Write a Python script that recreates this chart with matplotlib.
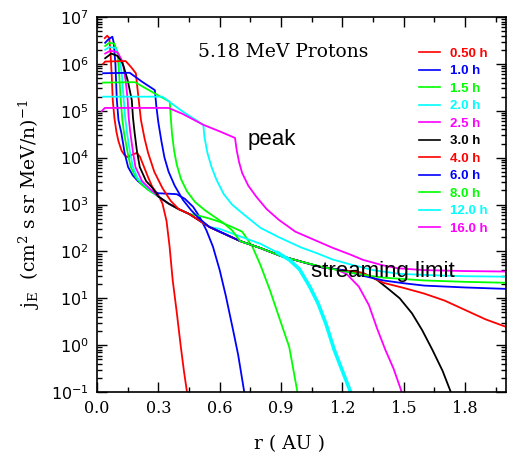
import numpy as np
import matplotlib
matplotlib.use("Agg")
import matplotlib.pyplot as plt
from matplotlib.ticker import MultipleLocator, LogLocator, NullFormatter

plt.rcParams['mathtext.fontset'] = 'dejavuserif'

# ---------------- data (r in AU, log10 of j_E) ----------------
times = ["0.50 h", "1.0 h", "1.5 h", "2.0 h", "2.5 h", "3.0 h",
         "4.0 h", "6.0 h", "8.0 h", "12.0 h", "16.0 h"]
colors = ["#ff0000", "#0000ff", "#00ff00", "#00ffff", "#ff00ff", "#000000",
          "#ff0000", "#0000ff", "#00ff00", "#00ffff", "#ff00ff"]

# streaming-limit bundle shared by many curves
S_r = [0.30, 0.35, 0.40, 0.45, 0.50, 0.55, 0.60, 0.70, 0.80, 0.90, 1.00, 1.10, 1.20, 1.30]
S_l = [3.17, 3.02, 2.90, 2.80, 2.66, 2.52, 2.42, 2.22, 2.07, 1.90, 1.78, 1.66, 1.60, 1.54]

def S(r0, r1):
    rr = [r for r in S_r if r0 <= r <= r1]
    ll = [l for r, l in zip(S_r, S_l) if r0 <= r <= r1]
    return rr, ll

c05_r = [0.038, 0.05, 0.06, 0.066, 0.072, 0.077, 0.085, 0.095, 0.105, 0.12, 0.135, 0.15, 0.17, 0.195,
         0.21, 0.23, 0.25, 0.27, 0.30, 0.32, 0.34, 0.355, 0.37, 0.39, 0.41, 0.425, 0.44]
c05_l = [6.55, 6.60, 6.55, 6.25, 5.75, 5.23, 4.85, 4.55, 4.35, 4.15, 4.05, 4.01, 4.06, 4.10,
         4.02, 3.80, 3.58, 3.38, 3.20, 3.02, 2.65, 2.10, 1.39, 0.70, -0.04, -0.55, -1.0]

c10_r = [0.04, 0.055, 0.075, 0.082, 0.09, 0.097, 0.105, 0.119, 0.135, 0.152, 0.175, 0.20, 0.25, 0.30,
         0.35, 0.39, 0.43, 0.47, 0.50, 0.535, 0.567, 0.60, 0.63, 0.665, 0.69, 0.72]
c10_l = [6.45, 6.52, 6.58, 6.45, 6.0, 5.23, 4.8, 4.53, 4.1, 3.8, 3.62, 3.50, 3.32, 3.24,
         3.23, 3.22, 3.12, 2.95, 2.75, 2.45, 2.10, 1.60, 1.05, 0.33, -0.2, -1.0]

c15_head_r = [0.04, 0.06, 0.085, 0.10, 0.108, 0.116, 0.124, 0.132, 0.15, 0.165, 0.19, 0.22, 0.26]
c15_head_l = [6.38, 6.45, 6.43, 6.25, 5.8, 5.23, 4.8, 4.53, 4.1, 3.80, 3.58, 3.42, 3.28]
c15_tail_r = [0.50, 0.55, 0.60, 0.66, 0.71, 0.76, 0.80, 0.845, 0.89, 0.94, 0.98]
c15_tail_l = [2.76, 2.70, 2.63, 2.52, 2.42, 2.10, 1.70, 1.18, 0.60, -0.04, -1.0]

c20_head_r = [0.04, 0.06, 0.09, 0.11, 0.122, 0.131, 0.138, 0.147, 0.16, 0.176, 0.20, 0.25]
c20_head_l = [6.30, 6.36, 6.34, 6.15, 5.75, 5.23, 4.85, 4.53, 4.15, 3.80, 3.55, 3.35]
c20_tail_r = [0.60, 0.70, 0.80, 0.88, 0.94, 0.99, 1.04, 1.08, 1.12, 1.16, 1.20, 1.24]
c20_tail_l = [2.48, 2.32, 2.16, 1.98, 1.82, 1.62, 1.25, 0.90, 0.45, -0.10, -0.55, -1.0]

c25_head_r = [0.04, 0.065, 0.10, 0.125, 0.14, 0.15, 0.155, 0.163, 0.175, 0.188, 0.22, 0.26]
c25_head_l = [6.22, 6.28, 6.25, 6.05, 5.65, 5.23, 4.85, 4.53, 4.15, 3.80, 3.50, 3.33]
c25_tail_r = [1.16, 1.22, 1.28, 1.33, 1.37, 1.41, 1.45, 1.49]
c25_tail_l = [1.63, 1.52, 1.25, 0.85, 0.35, -0.10, -0.50, -1.0]

c30_head_r = [0.04, 0.07, 0.10, 0.12, 0.13, 0.15, 0.17, 0.176, 0.184, 0.195, 0.209, 0.24, 0.27]
c30_head_l = [6.12, 6.22, 6.17, 6.05, 5.95, 5.65, 5.23, 4.85, 4.53, 4.15, 3.80, 3.50, 3.36]
c30_tail_r = [1.37, 1.43, 1.48, 1.54, 1.59, 1.64, 1.69, 1.73]
c30_tail_l = [1.39, 1.18, 1.00, 0.68, 0.32, -0.10, -0.55, -1.0]

c40_head_r = [0.03, 0.04, 0.14, 0.165, 0.19, 0.196, 0.204, 0.215, 0.233, 0.25, 0.28, 0.32, 0.36]
c40_head_l = [6.00, 6.05, 6.06, 5.94, 5.80, 5.55, 5.23, 4.80, 4.40, 4.10, 3.70, 3.35, 3.08]
c40_tail_r = [1.40, 1.50, 1.60, 1.70, 1.80, 1.90, 2.00]
c40_tail_l = [1.33, 1.22, 1.10, 0.95, 0.75, 0.55, 0.39]

c60_head_r = [0.03, 0.16, 0.22, 0.283, 0.29, 0.30, 0.315, 0.33, 0.35, 0.38, 0.42, 0.46, 0.50]
c60_head_l = [5.80, 5.81, 5.62, 5.44, 5.10, 4.75, 4.35, 4.00, 3.70, 3.40, 3.10, 2.88, 2.70]
c60_tail_r = [1.30, 1.40, 1.50, 1.60, 1.80, 2.00]
c60_tail_l = [1.48, 1.38, 1.32, 1.27, 1.23, 1.20]

c80_head_r = [0.03, 0.185, 0.27, 0.356, 0.36, 0.367, 0.377, 0.39, 0.41, 0.44, 0.48, 0.53, 0.58, 0.62, 0.66]
c80_head_l = [5.60, 5.61, 5.40, 5.19, 4.90, 4.50, 4.15, 3.85, 3.55, 3.28, 3.05, 2.87, 2.72, 2.60, 2.45]
c80_tail_r = [1.10, 1.20, 1.30, 1.40, 1.60, 1.80, 2.00]
c80_tail_l = [1.67, 1.58, 1.50, 1.44, 1.38, 1.35, 1.33]

c120_r = [0.03, 0.32, 0.42, 0.52, 0.525, 0.54, 0.56, 0.585, 0.62, 0.66, 0.72, 0.80, 0.89, 1.00,
          1.07, 1.15, 1.24, 1.35, 1.48, 1.65, 1.80, 2.00]
c120_l = [5.30, 5.30, 4.98, 4.70, 4.45, 4.10, 3.80, 3.52, 3.22, 3.00, 2.78, 2.50, 2.30, 2.08,
          1.97, 1.83, 1.72, 1.60, 1.52, 1.49, 1.47, 1.46]

c160_r = [0.023, 0.038, 0.35, 0.42, 0.52, 0.60, 0.675, 0.683, 0.695, 0.71, 0.74, 0.78, 0.83, 0.89,
          0.97, 1.06, 1.15, 1.24, 1.30, 1.40, 1.47, 1.60, 1.80, 2.00]
c160_l = [4.99, 5.06, 5.06, 4.93, 4.70, 4.56, 4.42, 4.16, 3.90, 3.67, 3.40, 3.16, 2.90, 2.67,
          2.42, 2.25, 2.08, 1.93, 1.82, 1.70, 1.64, 1.60, 1.58, 1.57]

def join(*parts):
    r, l = [], []
    for pr, pl in parts:
        r += list(pr)
        l += list(pl)
    return np.array(r), np.array(l)

curves = [
    join((c05_r, c05_l)),
    join((c10_r, c10_l)),
    join((c15_head_r, c15_head_l), S(0.30, 0.45), (c15_tail_r, c15_tail_l)),
    join((c20_head_r, c20_head_l), S(0.30, 0.55), (c20_tail_r, c20_tail_l)),
    join((c25_head_r, c25_head_l), S(0.30, 1.10), (c25_tail_r, c25_tail_l)),
    join((c30_head_r, c30_head_l), S(0.30, 1.30), (c30_tail_r, c30_tail_l)),
    join((c40_head_r, c40_head_l), S(0.40, 1.30), (c40_tail_r, c40_tail_l)),
    join((c60_head_r, c60_head_l), S(0.55, 1.20), (c60_tail_r, c60_tail_l)),
    join((c80_head_r, c80_head_l), S(0.70, 1.00), (c80_tail_r, c80_tail_l)),
    join((c120_r, c120_l)),
    join((c160_r, c160_l)),
]

# ---------------- figure ----------------
W, H = 511, 455
fig = plt.figure(figsize=(W / 100, H / 100), dpi=100)
ax = fig.add_axes([97 / W, 63 / H, 409 / W, 375 / H])

for (r, l), c, lab in zip(curves, colors, times):
    ax.plot(r, 10.0 ** l, color=c, lw=1.3, label=lab, solid_joinstyle='round')

# the 2.0 h front is drawn with a heavier line in the original
r20, l20 = curves[3]
sel = r20 >= 0.88
ax.plot(r20[sel], 10.0 ** l20[sel], color=colors[3], lw=2.6, solid_capstyle='round')

ax.set_yscale('log')
ax.set_xlim(0, 2.0)
ax.set_ylim(1e-1, 1e7)

serif = 'DejaVu Serif'
ax.xaxis.set_minor_locator(MultipleLocator(0.15))
ax.set_xticks([0.0, 0.3, 0.6, 0.9, 1.2, 1.5, 1.8])
ax.set_xticklabels(["0.0", "0.3", "0.6", "0.9", "1.2", "1.5", "1.8"], family=serif, fontsize=11.5)
ax.yaxis.set_major_locator(LogLocator(base=10, numticks=20))
ax.yaxis.set_minor_locator(LogLocator(base=10, subs=np.arange(2, 10), numticks=20))
ax.yaxis.set_minor_formatter(NullFormatter())
for t in ax.get_yticklabels():
    t.set_fontsize(11.5)
ax.tick_params(which='both', direction='in', top=True, right=True, width=1.0)
ax.tick_params(which='major', length=7, pad=6)
ax.tick_params(which='minor', length=3.5)
for s in ax.spines.values():
    s.set_linewidth(1.2)

ax.set_xlabel("r ( AU )", family=serif, fontsize=13.5, labelpad=10)
ax.xaxis.set_label_coords(0.47, -0.115)
ax.set_ylabel(r"$\mathrm{j_E\ \ (cm^2\ s\ sr\ MeV/n)^{-1}}$", fontsize=13.5, labelpad=6)

def fig_xy(px, py):
    return px / W, 1 - py / H

ax.text(*fig_xy(198, 52), "5.18 MeV Protons", transform=fig.transFigure, family=serif, fontsize=13.5,
        ha='left', va='center')
ax.text(*fig_xy(248, 140), "peak", transform=fig.transFigure, fontsize=16, family='Liberation Sans',
        ha='left', va='center')
ax.text(*fig_xy(311, 272), "streaming limit", transform=fig.transFigure, fontsize=16,
        family='Liberation Sans', ha='left', va='center')

leg = ax.legend(loc='upper left', bbox_to_anchor=fig_xy(412, 41), bbox_transform=fig.transFigure,
                frameon=False, handlelength=1.6, handletextpad=0.75, labelspacing=0.4, borderpad=0,
                prop={'family': 'Liberation Sans', 'weight': 'bold', 'size': 9.5}, labelcolor='linecolor')
for h in leg.get_lines():
    h.set_linewidth(1.2)

fig.savefig("out.png", dpi=100)
